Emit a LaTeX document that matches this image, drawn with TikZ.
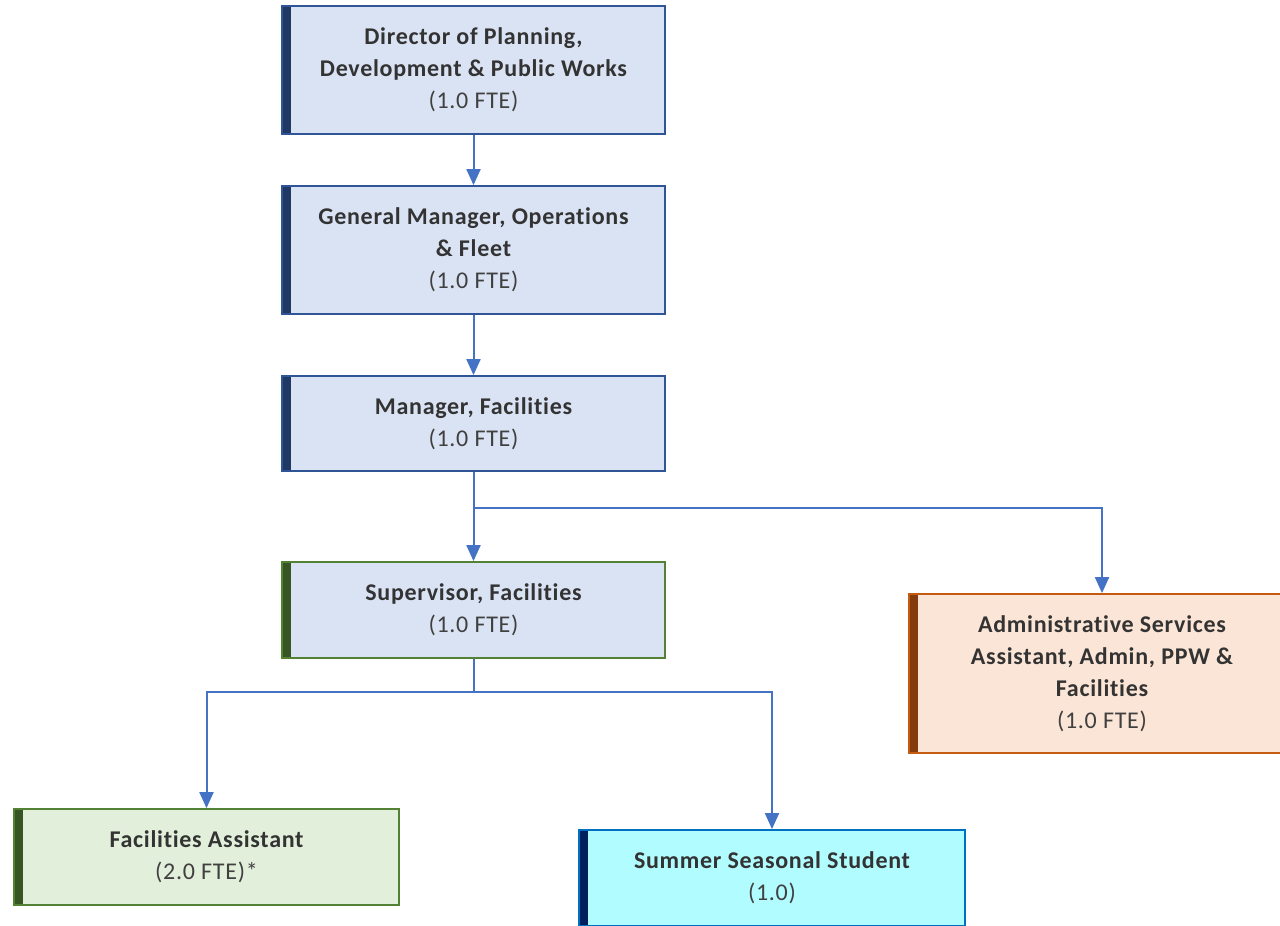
\documentclass[tikz,border=0pt]{standalone}
\usepackage{fontspec}
\setmainfont{Carlito}[LetterSpace=3, Ligatures={NoCommon}]
\usetikzlibrary{arrows.meta}
\definecolor{bluefill}{HTML}{DAE3F3}
\definecolor{blueline}{HTML}{2F5597}
\definecolor{bluebar}{HTML}{203864}
\definecolor{greenline}{HTML}{548235}
\definecolor{greenbar}{HTML}{375623}
\definecolor{greenfill}{HTML}{E2EFDA}
\definecolor{orangefill}{HTML}{FBE5D6}
\definecolor{orangeline}{HTML}{C55A11}
\definecolor{orangebar}{HTML}{843C0C}
\definecolor{cyanfill}{HTML}{B1FCFF}
\definecolor{cyanline}{HTML}{0070C0}
\definecolor{cyanbar}{HTML}{002060}
\definecolor{arrowcol}{HTML}{4472C4}
\definecolor{titlecol}{HTML}{333333}
\definecolor{ftecol}{HTML}{404040}
\newcommand{\ttl}[1]{{\bfseries\color{titlecol}#1}}
\newcommand{\fte}[1]{{\color{ftecol}#1}}
\tikzset{
  orgbox/.style n args={3}{draw=#2, fill=#1, line width=1.8pt, rectangle, inner sep=0pt,
    align=center, font=\fontsize{24}{32}\selectfont,
    execute at begin node={\rule{0pt}{28pt}},
    path picture={\fill[#3] (path picture bounding box.north west) rectangle ([xshift=9pt]path picture bounding box.south west);}},
  conn/.style={draw=arrowcol, line width=2pt, -{Triangle[width=14pt,length=16pt]}},
  link/.style={draw=arrowcol, line width=2pt},
}
\begin{document}
\begin{tikzpicture}[x=1pt,y=-1pt]
\useasboundingbox (0,0) rectangle (1280,926);
\node[orgbox={bluefill}{blueline}{bluebar}, minimum width=383pt, minimum height=128pt] (dir) at (473.5,70)
  {\ttl{Director of Planning,}\\\ttl{Development \& Public Works}\\\fte{(1.0 FTE)}};
\node[orgbox={bluefill}{blueline}{bluebar}, minimum width=383pt, minimum height=128pt] (gm) at (473.5,250)
  {\ttl{General Manager, Operations}\\\ttl{\& Fleet}\\\fte{(1.0 FTE)}};
\node[orgbox={bluefill}{blueline}{bluebar}, minimum width=383pt, minimum height=95pt] (mgr) at (473.5,423.5)
  {\ttl{Manager, Facilities}\\\fte{(1.0 FTE)}};
\node[orgbox={bluefill}{greenline}{greenbar}, minimum width=383pt, minimum height=96pt] (sup) at (473.5,610)
  {\ttl{Supervisor, Facilities}\\\fte{(1.0 FTE)}};
\node[orgbox={orangefill}{orangeline}{orangebar}, minimum width=386pt, minimum height=159pt] (adm) at (1102,673.5)
  {\ttl{Administrative Services}\\\ttl{Assistant, Admin, PPW \&}\\\ttl{Facilities}\\\fte{(1.0 FTE)}};
\node[orgbox={greenfill}{greenline}{greenbar}, minimum width=385pt, minimum height=96pt] (fa) at (206.5,857)
  {\ttl{Facilities Assistant}\\\fte{(2.0 FTE)*}};
\node[orgbox={cyanfill}{cyanline}{cyanbar}, minimum width=386pt, minimum height=96pt] (sss) at (772,878)
  {\ttl{Summer Seasonal Student}\\\fte{(1.0)}};
\coordinate (j1) at (473.5,508);
\coordinate (j2) at (473.5,692);
\draw[conn] (dir.south) -- (gm.north);
\draw[conn] (gm.south) -- (mgr.north);
\draw[conn] (mgr.south) -- (sup.north);
\draw[conn] (j1) -| (adm.north);
\draw[link] (sup.south) -- (j2);
\draw[conn] (j2) -| (fa.north);
\draw[conn] (j2) -| (sss.north);
\end{tikzpicture}
\end{document}
